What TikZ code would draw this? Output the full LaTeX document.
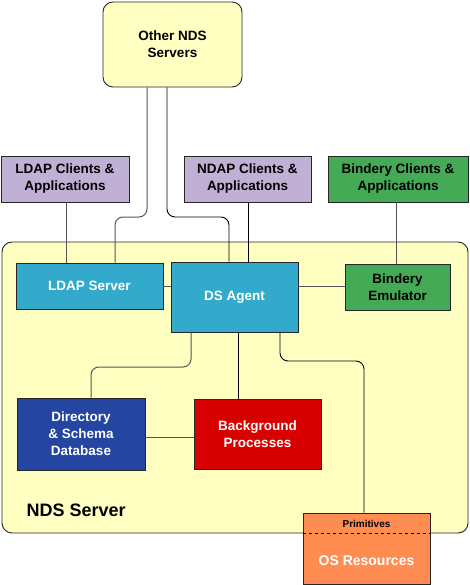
\documentclass[tikz,border=0pt]{standalone}
\usepackage{fontspec}
\setmainfont{Liberation Sans}
\definecolor{paleyellow}{HTML}{FFFFC2}
\definecolor{lavender}{HTML}{C0B0D6}
\definecolor{bgreen}{HTML}{44AA55}
\definecolor{cyanbox}{HTML}{33AACC}
\definecolor{dbblue}{HTML}{2446A0}
\definecolor{bgred}{HTML}{D90000}
\definecolor{osorange}{HTML}{FF8C50}
\definecolor{linegray}{HTML}{555555}
\begin{document}
\begin{tikzpicture}[x=1pt,y=-1pt,
  box/.style={draw=black!85, line width=0.9pt, inner sep=0pt, align=center,
    font=\fontsize{13.5}{17}\selectfont\bfseries},
  conn/.style={draw=black, line width=0.9pt, rounded corners=8},
  gconn/.style={draw=linegray, line width=1pt, rounded corners=8}]
\useasboundingbox (0,0) rectangle (469,585);
% NDS server container
\node[box, fill=paleyellow, rounded corners=10, minimum width=466pt, minimum height=291pt] (server) at (235,387.5) {};
\node[font=\fontsize{18}{20}\selectfont\bfseries, anchor=west] (serverlabel) at (23,510) {NDS Server};
% top boxes
\node[box, fill=paleyellow, rounded corners=10, minimum width=139pt, minimum height=85pt] (other) at (172.5,44.5) {Other NDS\\Servers};
\node[box, fill=lavender, minimum width=128pt, minimum height=46pt] (ldapc) at (65,179) {LDAP Clients \&\\Applications};
\node[box, fill=lavender, minimum width=127pt, minimum height=46pt] (ndapc) at (247.5,179) {NDAP Clients \&\\Applications};
\node[box, fill=bgreen, minimum width=140pt, minimum height=46pt] (binc) at (398,179) {Bindery Clients \&\\Applications};
% inner boxes
\node[box, fill=cyanbox, text=white, minimum width=147pt, minimum height=46pt] (ldaps) at (89.5,286) {LDAP Server};
\node[box, fill=cyanbox, text=white, minimum width=127pt, minimum height=70pt] (dsa) at (234.5,297) {DS Agent};
\node[box, fill=bgreen, minimum width=105pt, minimum height=46pt] (bine) at (397.5,287) {Bindery\\Emulator};
\node[box, fill=dbblue, text=white, minimum width=128pt, minimum height=72pt] (db) at (81,434) {Directory\\\& Schema\\Database};
\node[box, fill=bgred, text=white, minimum width=127pt, minimum height=70pt] (bg) at (257.5,434) {Background\\Processes};
% OS resources
\node[box, fill=osorange, minimum width=127pt, minimum height=71pt] (os) at (366.5,548.5) {};
\node[font=\fontsize{10}{11}\selectfont\bfseries] (prim) at (366.5,523.5) {Primitives};
\node[font=\fontsize{14}{16}\selectfont\bfseries, text=white] (osl) at (366.5,561) {OS Resources};
\draw[dashed, line width=0.9pt] (os.west |- server.south) -- (os.east |- server.south);
% helper coordinates
\coordinate (a) at (115,217);
\coordinate (b) at (229,217);
\coordinate (c147) at (147,0);
\coordinate (c167) at (167,0);
\coordinate (c66) at (66,0);
\coordinate (c248) at (248,0);
\coordinate (c396) at (396,0);
\coordinate (c191) at (191,0);
\coordinate (c238) at (238,0);
\coordinate (c280) at (280,0);
\coordinate (d) at (91,367);
\coordinate (e) at (364,361);
\coordinate (y437) at (0,437);
% connectors
\draw[gconn] (other.south -| c147) |- (a) -- (ldaps.north -| a);
\draw[conn] (other.south -| c167) |- (b) -- (dsa.north -| b);
\draw[gconn] (ldapc.south -| c66) -- (ldaps.north -| c66);
\draw[conn] (ndapc.south -| c248) -- (dsa.north -| c248);
\draw[gconn] (binc.south -| c396) -- (bine.north -| c396);
\draw[gconn] (ldaps.east) -- (dsa.west |- ldaps.east);
\draw[gconn] (dsa.east |- ldaps.east) -- (bine.west |- ldaps.east);
\draw[gconn] (dsa.south -| c191) |- (d) -- (db.north -| d);
\draw[conn] (dsa.south -| c238) -- (bg.north -| c238);
\draw[conn] (dsa.south -| c280) |- (e) -- (os.north -| e);
\draw[gconn] (db.east |- y437) -- (bg.west |- y437);
\end{tikzpicture}
\end{document}
